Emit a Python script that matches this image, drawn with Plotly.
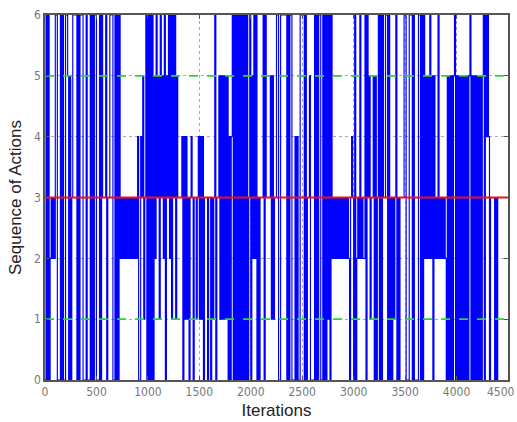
import numpy as np
import plotly.graph_objects as go

# Action chosen by the agent, logged every 10 iterations (one digit per sample,
# grouped in blocks of 100 iterations).
action_log = [
    "0606023232 6600060600 6650503666 6060666000 6000606066",   # 0 - 500
    "0006063336 0336660060 6062323232 3232323232 4004351360",   # 500 - 1000
    "6060605263 5163526053 6261636153 3334041413 0343033134",   # 1000 - 1500
    "1414033303 3031360335 1515151504 0460606060 6060606036",   # 1500 - 2000
    "0526260303 3360633335 1513366006 6666606066 0004040066",   # 2000 - 2500
    "6606033500 0060606600 6060616062 3232323232 3232320343",   # 2500 - 3000
    "0602326232 2606351335 0503606063 3660603031 3603033336",   # 3000 - 3500
    "6000666060 0006606062 5252625052 3262323232 0505050560",   # 3500 - 4000
    "5050505050 5056050505 0505056064 6403333030 3333333333",   # 4000 - 4500
]
sample_step = 10

actions = [int(c) for block in action_log for c in block.replace(" ", "")]
iterations = np.arange(len(actions)) * sample_step

optimal_action = [3]
bound_actions = [1, 5]
iter_span = [0, 4500]

x_ticks = [0, 500, 1000, 1500, 2000, 2500, 3000, 3500, 4000, 4500]
y_ticks = [0, 1, 2, 3, 4, 5, 6]

fig = go.Figure()

# the action is held between logged samples, so switches are drawn as steps
fig.add_trace(go.Scatter(
    x=iterations, y=actions, mode="lines",
    line=dict(color="#0000ff", width=1.15, shape="hv", simplify=False),
    showlegend=False, hoverinfo="skip",
))

for level in bound_actions:
    fig.add_trace(go.Scatter(
        x=iter_span, y=[level, level], mode="lines",
        line=dict(color="#22dd22", width=1.6, dash="dash"),
        showlegend=False, hoverinfo="skip",
    ))

for level in optimal_action:
    fig.add_trace(go.Scatter(
        x=iter_span, y=[level, level], mode="lines",
        line=dict(color="#ee1111", width=2),
        showlegend=False, hoverinfo="skip",
    ))

tick_font = dict(family="Liberation Sans Narrow, DejaVu Sans Condensed, sans-serif",
                 size=12, color="#777777")
title_font = dict(family="Liberation Sans, Arial, sans-serif", size=17, color="#222222")

axis_common = dict(
    showline=True, linecolor="#555555", linewidth=1.6, mirror="ticks",
    ticks="inside", ticklen=4, tickcolor="#555555",
    showgrid=True, gridcolor="#aaaaaa", gridwidth=1, griddash="dot",
    zeroline=False, tickfont=tick_font,
)

# last x label is placed separately so it stays inside the page edge
x_labels = [str(t) for t in x_ticks[:-1]] + [""]

fig.update_xaxes(
    range=[0, 4500], tickvals=x_ticks, ticktext=x_labels,
    title=dict(text="Iterations", font=title_font, standoff=6),
    automargin=False,
    **axis_common,
)
fig.update_yaxes(
    range=[0, 6], tickvals=y_ticks, ticktext=[str(t) for t in y_ticks],
    title=dict(text="Sequence of Actions", font=title_font, standoff=8),
    automargin=False,
    **axis_common,
)

fig.add_annotation(
    x=x_ticks[-1], y=0, xref="x", yref="y", text=str(x_ticks[-1]),
    showarrow=False, xanchor="right", yanchor="top", xshift=9, yshift=-3,
    font=tick_font,
)

fig.update_layout(
    width=517, height=422,
    margin=dict(l=45, r=9, t=15, b=42),
    paper_bgcolor="white", plot_bgcolor="white",
    showlegend=False,
)

fig.write_html("out.html")
